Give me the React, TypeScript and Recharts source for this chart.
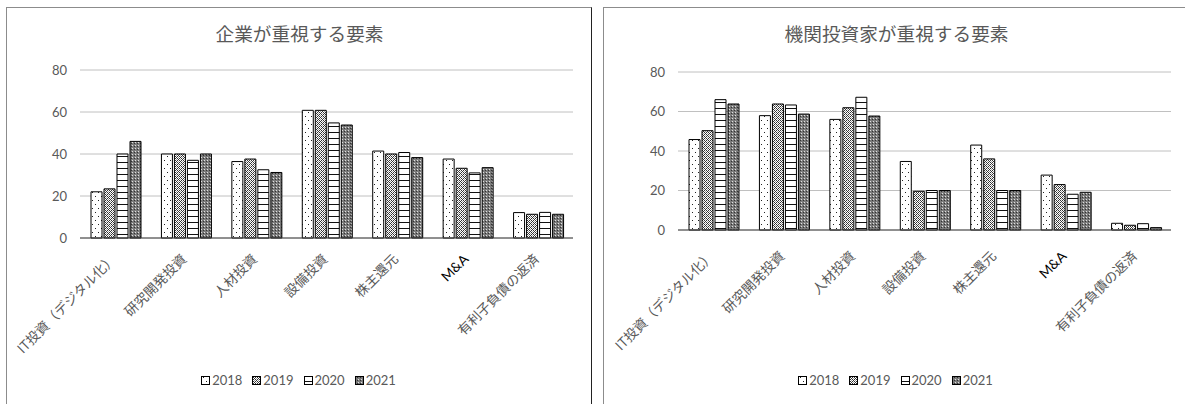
import { BarChart, Bar, XAxis, YAxis, CartesianGrid, Legend } from 'recharts';

const categories = ['IT投資（デジタル化）', '研究開発投資', '人材投資', '設備投資', '株主還元', 'M&A', '有利子負債の返済'];
const years = ['2018', '2019', '2020', '2021'];

// 企業が重視する要素
const company2018 = [22, 40, 36.4, 60.8, 41.4, 37.6, 12.1];
const company2019 = [23.4, 40, 37.6, 60.8, 40, 33.2, 11.3];
const company2020 = [40, 37, 32.5, 54.8, 40.7, 31, 12.2];
const company2021 = [46, 40, 31.2, 53.8, 38.3, 33.5, 11.3];

// 機関投資家が重視する要素
const investor2018 = [45.8, 57.9, 56, 34.7, 43, 27.8, 3.4];
const investor2019 = [50.3, 63.8, 61.9, 19.6, 36, 23, 2.4];
const investor2020 = [66, 63.3, 67.2, 20, 20, 18.1, 3.2];
const investor2021 = [63.8, 58.7, 57.7, 20, 20, 19.1, 1.2];

const yTicks = [0, 20, 40, 60, 80];

const TEXT = '#595959';
const LATIN = 'Lato, "Noto Sans CJK JP", sans-serif';
const CJK = '"Noto Sans CJK JP", sans-serif';

function buildRows(series: number[][]) {
  return categories.map((name, i) => {
    const row: Record<string, string | number> = { name };
    years.forEach((y, k) => {
      row[y] = series[k][i];
    });
    return row;
  });
}

const companyRows = buildRows([company2018, company2019, company2020, company2021]);
const investorRows = buildRows([investor2018, investor2019, investor2020, investor2021]);

// fill patterns, one per year
function Patterns() {
  return (
    <svg width={0} height={0} style={{ position: 'absolute' }}>
      <defs>
        <pattern id="pat2018" width={6} height={8} patternUnits="userSpaceOnUse">
          <rect width={6} height={8} fill="#fff" />
          <rect x={2} y={1} width={1} height={1} fill="#222" />
          <rect x={5} y={5} width={1} height={1} fill="#222" />
        </pattern>
        <pattern id="pat2019" width={4} height={4} patternUnits="userSpaceOnUse">
          <rect width={4} height={4} fill="#fff" />
          <rect x={0} y={0} width={1} height={1} fill="#333" />
          <rect x={1} y={1} width={1} height={1} fill="#333" />
          <rect x={2} y={2} width={1} height={1} fill="#333" />
          <rect x={3} y={3} width={1} height={1} fill="#333" />
          <rect x={1} y={3} width={1} height={1} fill="#333" />
          <rect x={3} y={1} width={1} height={1} fill="#333" />
          <rect x={2} y={0} width={1} height={1} fill="#999" />
          <rect x={0} y={2} width={1} height={1} fill="#999" />
        </pattern>
        <pattern id="pat2020" width={4} height={6} patternUnits="userSpaceOnUse">
          <rect width={4} height={6} fill="#fff" />
          <rect x={0} y={5} width={4} height={1} fill="#111" />
        </pattern>
        <pattern id="pat2021" width={3} height={3} patternUnits="userSpaceOnUse">
          <rect width={3} height={3} fill="#7a7a7a" />
          <rect x={0} y={0} width={1} height={1} fill="#e0e0e0" />
          <rect x={2} y={1} width={1} height={1} fill="#333" />
        </pattern>
      </defs>
    </svg>
  );
}

function AngledTick(props: any) {
  const { x, y, payload, shiftY } = props;
  const isLatin = payload.value === 'M&A';
  return (
    <g transform={`translate(${x + 2},${y + shiftY})`}>
      <text
        textAnchor="end"
        transform="rotate(-45)"
        fill={isLatin ? '#000' : TEXT}
        fontSize={13.5}
        fontFamily={isLatin ? LATIN : CJK}
      >
        {payload.value}
      </text>
    </g>
  );
}

function YearLegend() {
  return (
    <div style={{ display: 'flex', justifyContent: 'center', gap: 10, fontFamily: LATIN, fontSize: 13, color: TEXT }}>
      {years.map((y) => (
        <span key={y} style={{ display: 'flex', alignItems: 'center' }}>
          <svg width={9} height={9} style={{ marginRight: 2 }}>
            <rect x={0.5} y={0.5} width={8} height={8} fill={`url(#pat${y})`} stroke="#000" />
          </svg>
          {y}
        </span>
      ))}
    </div>
  );
}

type PanelProps = {
  title: string;
  rows: Record<string, string | number>[];
  left: number;
  width: number;
  plotTop: number;
  axisWidth: number;
  xAxisHeight: number;
  rightMargin: number;
  shiftY: number;
  borderColor: string;
  rightBorder: string;
};

function Panel({ title, rows, left, width, plotTop, axisWidth, xAxisHeight, rightMargin, shiftY, borderColor, rightBorder }: PanelProps) {
  return (
    <div
      style={{
        position: 'absolute',
        left,
        top: 7,
        width,
        height: 420,
        boxSizing: 'border-box',
        border: `1px solid ${borderColor}`,
        borderRight: `1px solid ${rightBorder}`,
        background: '#fff',
      }}
    >
      <div
        style={{
          position: 'absolute',
          left: 0,
          top: 13,
          width: 585,
          textAlign: 'center',
          fontFamily: CJK,
          fontSize: 18.67,
          lineHeight: '24px',
          color: TEXT,
        }}
      >
        {title}
      </div>
      <div style={{ position: 'absolute', left: -1, top: -1 }}>
        <BarChart
          width={585}
          height={397}
          data={rows}
          margin={{ top: plotTop, right: rightMargin, left: 0, bottom: 12 }}
          barCategoryGap={11}
          barGap={2}
        >
          <CartesianGrid vertical={false} stroke="#c0c0c0" />
          <XAxis
            dataKey="name"
            interval={0}
            height={xAxisHeight}
            tickLine={false}
            axisLine={{ stroke: '#404040' }}
            tick={<AngledTick shiftY={shiftY} />}
          />
          <YAxis
            width={axisWidth}
            domain={[0, 80]}
            ticks={yTicks}
            axisLine={false}
            tickLine={false}
            tickMargin={7}
            tick={{ fill: TEXT, fontSize: 13, fontFamily: LATIN }}
          />
          <Legend verticalAlign="bottom" height={20} wrapperStyle={{ left: 0, width: 585 }} content={() => <YearLegend />} />
          {years.map((y) => (
            <Bar
              key={y}
              dataKey={y}
              fill={`url(#pat${y})`}
              stroke="#000"
              strokeWidth={1}
              isAnimationActive={false}
            />
          ))}
        </BarChart>
      </div>
    </div>
  );
}

export default function App() {
  return (
    <div style={{ position: 'absolute', left: 0, top: 0, width: 1185, height: 404, overflow: 'hidden', background: '#fff' }}>
      <Patterns />
      <Panel
        title="企業が重視する要素"
        rows={companyRows}
        left={6}
        width={586}
        plotTop={63}
        axisWidth={74}
        xAxisHeight={134}
        rightMargin={18}
        shiftY={14}
        borderColor="#8c8c8c"
        rightBorder="#222"
      />
      <Panel
        title="機関投資家が重視する要素"
        rows={investorRows}
        left={603}
        width={600}
        plotTop={65}
        axisWidth={75}
        xAxisHeight={142}
        rightMargin={17}
        shiftY={19}
        borderColor="#8c8c8c"
        rightBorder="#8c8c8c"
      />
    </div>
  );
}
